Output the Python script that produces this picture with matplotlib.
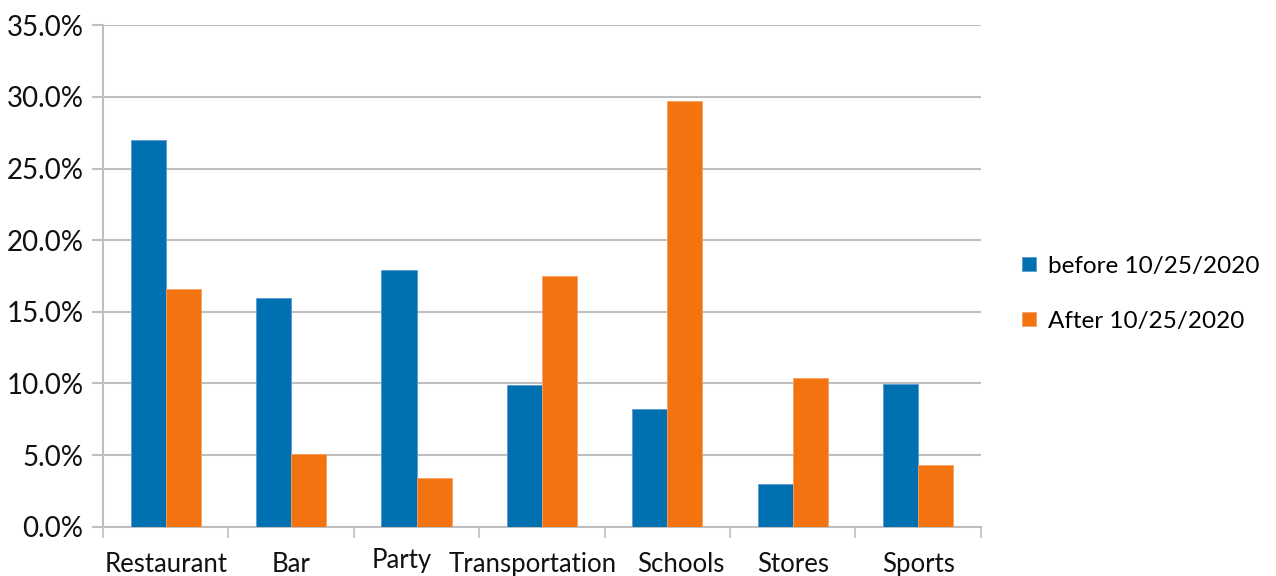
import matplotlib.pyplot as plt
import numpy as np
from matplotlib.ticker import FuncFormatter, FixedLocator
from matplotlib.transforms import ScaledTranslation
import matplotlib as mpl

mpl.rcParams['font.family'] = ['Lato', 'DejaVu Sans']

categories = ['Restaurant', 'Bar', 'Party', 'Transportation', 'Schools', 'Stores', 'Sports']
before = [27.0, 16.0, 17.9, 9.9, 8.2, 3.0, 9.95]
after = [16.6, 5.1, 3.4, 17.5, 29.7, 10.4, 4.3]
series_names = ['before 10/25/2020', 'After 10/25/2020']
yticks = [0, 5, 10, 15, 20, 25, 30, 35]

blue = '#0070B0'
orange = '#F37310'
grid_c = '#BFBFBF'

fig = plt.figure(figsize=(12.76, 5.76), dpi=100)
ax = fig.add_axes([0.0807, 0.0855, 0.688, 0.8705])

x = np.arange(len(categories))
w = 0.28
ax.bar(x - w / 2, before, w, color=blue, edgecolor='#5A9BD0', lw=0.6, label=series_names[0], zorder=3)
ax.bar(x + w / 2, after, w, color=orange, edgecolor='#F8A060', lw=0.6, label=series_names[1], zorder=3)

ax.set_xlim(-0.5, len(categories) - 0.5)
ax.set_ylim(0, 35)
ax.set_yticks(yticks)
ax.yaxis.set_major_formatter(FuncFormatter(lambda v, p: '%.1f%%' % v))
ax.grid(axis='y', color=grid_c, lw=1.5, zorder=0)

# category labels sit between the boundary ticks
ax.set_xticks(x)
ax.set_xticklabels(categories)
ax.xaxis.set_minor_locator(FixedLocator(np.arange(-0.5, len(categories), 1)))
ax.tick_params(axis='x', which='major', length=0, pad=18, labelsize=18.5, labelcolor='#111111')
ax.tick_params(axis='x', which='minor', length=8, width=1.2, color=grid_c)
ax.tick_params(axis='y', length=8, width=1.5, color=grid_c, labelsize=20, labelcolor='#111111', pad=6)

shifts = {'Party': (-15, 4), 'Transportation': (-9, 0), 'Schools': (14, 0)}
for lab in ax.get_xticklabels():
    if lab.get_text() in shifts:
        dx, dy = shifts[lab.get_text()]
        lab.set_transform(lab.get_transform() + ScaledTranslation(dx / 100, dy / 100, fig.dpi_scale_trans))

for s in ['top', 'right']:
    ax.spines[s].set_visible(False)
for s in ['left', 'bottom']:
    ax.spines[s].set_color(grid_c)
    ax.spines[s].set_linewidth(1.5)

fig.legend(loc='center left', bbox_to_anchor=(0.784, 0.49), frameon=False, fontsize=17.5,
           handlelength=0.55, handleheight=0.55, handletextpad=0.5, labelspacing=1.4)

fig.savefig('out.png', dpi=100, facecolor='white')
